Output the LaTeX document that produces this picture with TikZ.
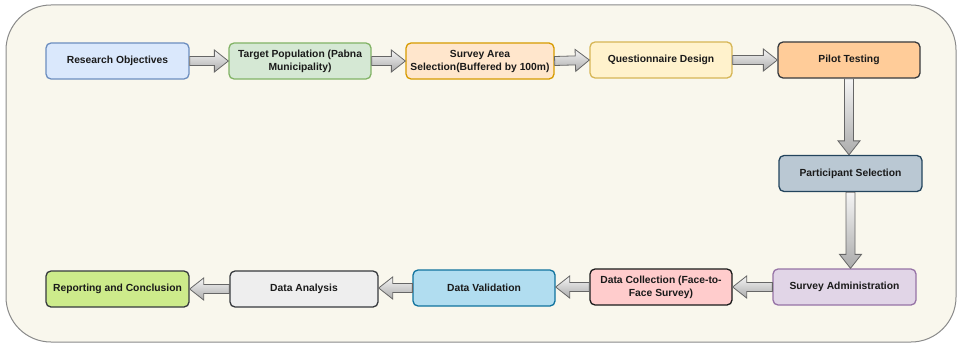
\documentclass[tikz,border=0pt]{standalone}
\usepackage{fontspec}
\setmainfont{Liberation Sans}
\usetikzlibrary{calc}
\usepackage{xcolor}
\definecolor{page}{HTML}{F9F7ED}
\definecolor{frameline}{HTML}{8A8A8A}
\definecolor{ink}{HTML}{1A1A1A}
\definecolor{dark}{HTML}{36393D}
\definecolor{objfill}{HTML}{DAE8FC}
\definecolor{objline}{HTML}{6C8EBF}
\definecolor{popfill}{HTML}{D5E8D4}
\definecolor{popline}{HTML}{82B366}
\definecolor{areafill}{HTML}{FFE6CC}
\definecolor{arealine}{HTML}{D79B00}
\definecolor{questfill}{HTML}{FFF2CC}
\definecolor{questline}{HTML}{D6B656}
\definecolor{pilotfill}{HTML}{FFCC99}
\definecolor{partfill}{HTML}{BAC8D3}
\definecolor{partline}{HTML}{23445D}
\definecolor{adminfill}{HTML}{E1D5E7}
\definecolor{adminline}{HTML}{9673A6}
\definecolor{collectfill}{HTML}{FFCCCC}
\definecolor{validfill}{HTML}{B1DDF0}
\definecolor{validline}{HTML}{10739E}
\definecolor{analysisfill}{HTML}{EEEEEE}
\definecolor{reportfill}{HTML}{CDEB8B}
\definecolor{flextop}{HTML}{F5F5F5}
\definecolor{flexbot}{HTML}{ABABAB}
\definecolor{flexline}{HTML}{666666}
\tikzset{
  every node/.style={font=\fontsize{10.3}{13}\selectfont\bfseries,text=ink},
  box/.style={draw=objline,line width=1.3pt,rounded corners=5pt,fill=objfill,minimum height=36pt,minimum width=143pt,align=center,inner sep=2pt},
  popbox/.style={box,fill=popfill,draw=popline},
  areabox/.style={box,fill=areafill,draw=arealine},
  questbox/.style={box,fill=questfill,draw=questline},
  pilotbox/.style={box,fill=pilotfill,draw=dark},
  partbox/.style={box,fill=partfill,draw=partline},
  adminbox/.style={box,fill=adminfill,draw=adminline},
  collectbox/.style={box,fill=collectfill,draw=ink},
  validbox/.style={box,fill=validfill,draw=validline},
  analysisbox/.style={box,fill=analysisfill,draw=dark},
  reportbox/.style={box,fill=reportfill,draw=dark},
  frame/.style={draw=frameline,line width=1pt,fill=page,rounded corners=45pt},
  flex/.style={draw=flexline,line width=0.8pt,top color=flextop,bottom color=flexbot,
    to path={let \p1=(\tikztostart),\p2=(\tikztotarget),\p3=($(\p2)!14pt!(\p1)$) in
      ($(\p1)!4.5pt!90:(\p2)$) -- ($(\p3)!4.5pt!90:(\p2)$) -- ($(\p3)!11pt!90:(\p2)$)
      -- (\p2) -- ($(\p3)!11pt!-90:(\p2)$) -- ($(\p3)!4.5pt!-90:(\p2)$)
      -- ($(\p1)!4.5pt!-90:(\p2)$) -- cycle}},
}

\begin{document}
\begin{tikzpicture}[x=1pt,y=-1pt]
  \useasboundingbox (0,0) rectangle (960,345);
  \draw[frame] (6,5) rectangle (956,342);

  % top row
  \node[box] (obj) at (117.5,61) {Research Objectives};
  \node[popbox,minimum width=142pt] (target) at (300,61) {Target Population (Pabna\\Municipality)};
  \node[areabox,minimum width=148pt] (area) at (480,61) {Survey Area\\Selection(Buffered by 100m)};
  \node[questbox,minimum width=142pt] (quest) at (661,60) {Questionnaire Design};
  \node[pilotbox,minimum width=142pt] (pilot) at (849,60) {Pilot Testing};

  % right column
  \node[partbox] (part) at (850.5,173.5) {Participant Selection};
  \node[adminbox] (admin) at (844.5,287) {Survey Administration};

  % bottom row, right to left
  \node[collectbox,minimum width=142pt] (collect) at (661,287) {Data Collection (Face-to-\\Face Survey)};
  \node[validbox,minimum width=142pt] (valid) at (484,288) {Data Validation};
  \node[analysisbox,minimum width=148pt] (analysis) at (304,289) {Data Analysis};
  \node[reportbox] (report) at (117.5,289) {Reporting and Conclusion};

  \draw[flex] (obj.east) to (target.west);
  \draw[flex] (target.east) to (area.west);
  \draw[flex] (area.east) to (quest.west);
  \draw[flex] (quest.east) to (pilot.west);
  \draw[flex] (pilot.south) to (pilot.south |- part.north);
  \draw[flex] (part.south) to (part.south |- admin.north);
  \draw[flex] (admin.west) to (collect.east);
  \draw[flex] (collect.west) to (collect.west -| valid.east);
  \draw[flex] (valid.west) to (valid.west -| analysis.east);
  \draw[flex] (analysis.west) to (report.east);
\end{tikzpicture}
\end{document}
